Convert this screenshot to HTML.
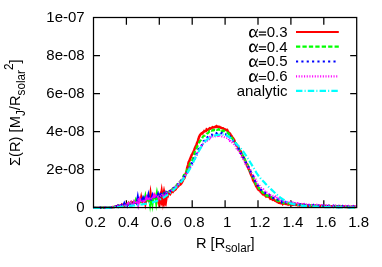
<!DOCTYPE html>
<html><head><meta charset="utf-8"><title>plot</title>
<style>html,body{margin:0;padding:0;background:#fff;width:382px;height:267px;overflow:hidden}body{position:relative;font-family:"Liberation Sans",sans-serif}</style>
</head><body>
<svg width="382" height="267" viewBox="0 0 382 267" style="display:block;position:absolute;left:0;top:0;will-change:transform">
<rect width="382" height="267" fill="#fff"/>
<g stroke="#000" stroke-width="1.25" fill="none" stroke-linecap="butt">
<path d="M126.40,207.55 V200.35000000000002 M126.40,17.5 V24.7"/>
<path d="M159.30,207.55 V200.35000000000002 M159.30,17.5 V24.7"/>
<path d="M192.20,207.55 V200.35000000000002 M192.20,17.5 V24.7"/>
<path d="M225.10,207.55 V200.35000000000002 M225.10,17.5 V24.7"/>
<path d="M258.00,207.55 V200.35000000000002 M258.00,17.5 V24.7"/>
<path d="M290.90,207.55 V200.35000000000002 M290.90,17.5 V24.7"/>
<path d="M323.80,207.55 V200.35000000000002 M323.80,17.5 V24.7"/>
<path d="M93.5,55.51 H100.0 M356.7,55.51 H350.2"/>
<path d="M93.5,93.52 H100.0 M356.7,93.52 H350.2"/>
<path d="M93.5,131.53 H100.0 M356.7,131.53 H350.2"/>
<path d="M93.5,169.54 H100.0 M356.7,169.54 H350.2"/>
</g>
<g fill="none" stroke-linejoin="miter" stroke-miterlimit="10" stroke-linecap="butt">
<path d="M93.50,207.75 L94.25,207.75 L95.00,207.74 L95.75,207.74 L96.50,207.73 L97.25,207.73 L98.00,207.73 L98.75,207.72 L99.50,207.72 L100.25,207.72 L101.00,207.71 L101.75,207.71 L102.50,207.71 L103.25,207.70 L104.00,207.69 L104.75,207.69 L105.50,207.68 L106.25,207.67 L107.00,207.66 L107.75,207.65 L108.50,207.63 L109.25,207.58 L110.00,207.51 L110.75,207.41 L111.50,207.31 L112.25,207.20 L113.00,207.10 L113.75,207.05 L114.50,206.85 L115.25,206.72 L116.00,206.50 L116.75,206.65 L117.50,205.94 L118.25,206.66 L119.00,205.93 L119.75,206.10 L120.50,205.79 L121.25,206.28 L122.00,204.76 L122.75,205.31 L123.50,205.13 L124.25,205.75 L125.00,204.39 L125.75,204.73 L126.50,204.09 L127.25,204.48 L128.00,204.66 L128.75,203.28 L129.50,204.64 L130.25,204.25 L131.00,203.76 L131.75,203.83 L132.50,202.48 L133.25,202.67 L134.00,201.87 L134.75,202.17 L135.50,202.57 L136.25,201.48 L137.00,201.52 L137.75,201.13 L138.50,200.84 L139.25,200.80 L140.00,201.13 L140.75,200.12 L141.50,200.99 L142.25,201.94 L143.00,201.06 L143.75,200.15 L144.50,199.41 L145.25,199.34 L146.00,201.11 L146.75,199.60 L147.50,198.85 L148.25,199.33 L149.00,200.71 L149.75,198.88 L150.50,199.09 L151.25,198.63 L152.00,197.89 L152.75,197.02 L153.50,197.49 L154.25,197.41 L155.00,197.90 L155.75,197.94 L156.50,197.85 L157.25,197.12 L158.00,197.47 L158.75,195.86 L159.50,197.47 L160.25,196.62 L161.00,195.73 L161.75,196.17 L162.50,195.50 L163.25,196.15 L164.00,196.11 L164.75,196.18 L165.50,193.57 L166.25,193.27 L167.00,193.47 L167.75,193.43 L168.50,193.34 L169.25,192.74 L170.00,191.81 L170.75,191.86 L171.50,191.74 L172.23,191.13 L173.31,190.83 L173.79,190.02 L174.70,189.46 L175.23,188.97 L175.99,188.40 L176.86,187.68 L177.62,186.99 L178.23,186.08 L178.64,185.69 L179.72,184.86 L180.60,184.34 L181.25,183.44 L182.07,182.12 L182.79,180.80 L183.28,179.42 L184.38,178.23 L184.91,176.27 L185.67,173.83 L186.59,171.37 L187.14,168.09 L188.04,165.09 L188.62,162.21 L189.47,160.73 L190.19,158.74 L190.93,157.13 L191.63,154.95 L192.49,153.74 L193.27,152.36 L194.14,150.23 L194.66,148.68 L195.51,146.86 L196.58,144.48 L197.06,143.00 L197.82,141.15 L198.57,138.74 L198.99,137.23 L199.96,135.21 L200.43,134.53 L201.63,133.21 L202.51,133.30 L202.92,132.42 L204.01,131.70 L204.33,130.95 L205.07,131.12 L206.08,130.91 L206.63,129.38 L207.43,129.94 L208.41,129.73 L208.85,129.03 L209.71,128.28 L210.48,128.62 L211.31,128.03 L212.11,127.61 L212.73,127.14 L213.32,127.40 L214.40,127.24 L215.43,126.62 L215.87,126.82 L216.58,126.26 L217.19,126.86 L217.96,126.72 L218.54,126.80 L219.59,127.02 L220.23,127.55 L221.19,127.77 L221.59,127.99 L222.70,128.15 L223.20,128.42 L223.91,128.91 L224.68,129.18 L225.41,129.75 L225.94,129.93 L227.10,129.84 L227.87,131.54 L228.69,132.62 L229.36,132.92 L230.10,133.67 L230.50,134.72 L231.53,135.91 L232.08,137.21 L232.96,138.15 L233.96,139.59 L234.50,140.71 L234.86,142.37 L235.85,143.52 L236.66,145.08 L237.47,146.22 L238.39,147.93 L239.13,149.06 L239.87,151.03 L240.53,151.17 L241.21,152.94 L241.95,154.81 L242.81,156.75 L243.64,157.40 L244.48,159.03 L245.01,160.57 L245.79,162.70 L246.72,163.94 L247.09,165.97 L248.12,167.43 L248.63,168.94 L249.74,171.28 L250.46,173.22 L251.25,175.29 L251.98,176.61 L252.63,178.16 L253.10,180.20 L254.07,181.73 L254.88,183.28 L255.57,184.58 L256.23,186.25 L257.02,187.23 L257.81,188.83 L258.35,189.63 L259.35,190.42 L260.08,190.57 L260.73,192.04 L261.60,192.72 L262.42,193.52 L262.85,194.22 L263.97,194.36 L264.65,195.25 L265.40,195.30 L266.15,196.49 L266.86,195.91 L267.50,196.17 L268.14,196.58 L269.08,197.18 L269.77,197.49 L270.40,198.81 L271.51,198.52 L272.13,198.61 L272.70,199.74 L273.26,199.61 L274.12,199.79 L275.07,200.78 L275.71,201.04 L276.30,201.04 L277.29,201.92 L277.98,201.86 L278.69,202.62 L279.31,202.58 L280.30,203.18 L280.84,203.00 L281.72,202.82 L282.67,204.10 L283.44,203.35 L283.98,203.58 L284.29,203.54 L285.61,203.81 L286.11,204.01 L286.79,204.09 L287.86,204.27 L288.22,204.60 L289.36,204.26 L290.14,204.09 L290.83,204.17 L291.53,204.36 L292.23,204.21 L292.93,204.82 L293.59,204.59 L294.86,204.70 L295.18,204.82 L295.86,204.57 L296.74,204.75 L297.59,205.14 L298.40,205.17 L298.97,204.99 L299.72,205.54 L300.50,204.90 L301.25,205.16 L302.00,205.23 L302.75,204.71 L303.50,205.80 L304.25,205.50 L305.00,205.23 L305.75,205.96 L306.50,205.68 L307.25,205.68 L308.00,205.49 L308.75,205.69 L309.50,205.37 L310.25,205.91 L311.00,205.69 L311.75,205.83 L312.50,206.10 L313.25,205.93 L314.00,205.95 L314.75,205.98 L315.50,205.79 L316.25,206.16 L317.00,206.34 L317.75,206.19 L318.50,206.24 L319.25,205.87 L320.00,205.90 L320.75,205.79 L321.50,206.40 L322.25,206.09 L323.00,206.48 L323.75,206.01 L324.50,206.11 L325.25,206.24 L326.00,206.44 L326.75,206.27 L327.50,206.32 L328.25,206.30 L329.00,206.35 L329.75,206.08 L330.50,206.36 L331.25,206.32 L332.00,206.36 L332.75,206.50 L333.50,206.26 L334.25,206.41 L335.00,206.38 L335.75,206.55 L336.50,206.65 L337.25,206.28 L338.00,206.64 L338.75,206.98 L339.50,206.22 L340.25,206.37 L341.00,206.38 L341.75,206.53 L342.50,206.96 L343.25,206.62 L344.00,206.48 L344.75,206.78 L345.50,206.53 L346.25,206.92 L347.00,206.76 L347.75,207.01 L348.50,206.57 L349.25,207.40 L350.00,206.93 L350.75,206.91 L351.50,206.77 L352.25,206.63 L353.00,206.62 L353.75,206.79 L354.50,206.66 L355.25,206.91 L356.00,206.68" stroke="#ff0000" stroke-width="2.5" stroke-miterlimit="5"/>
<path d="M130.30,203.37 L131.10,202.04 L131.90,203.37 M140.40,200.88 L141.20,197.02 L142.00,200.88 M149.70,198.58 L150.50,192.73 L151.30,198.58 M153.40,197.61 L154.20,195.41 L155.00,197.61 M159.40,196.18 L160.20,194.22 L161.00,196.18 M160.90,195.79 L161.70,190.44 L162.50,195.79 M163.20,195.05 L164.00,191.03 L164.80,195.05 M144.60,199.90 L145.40,204.11 L146.20,199.90 M162.10,195.43 L162.90,201.79 L163.70,195.43 M160.10,196.01 L160.90,201.10 L161.70,196.01 M164.10,194.68 L164.90,200.43 L165.70,194.68 M165.50,194.06 L166.30,199.68 L167.10,194.06 M157.50,196.63 L158.30,201.17 L159.10,196.63 M167.40,193.14 L168.20,195.32 L169.00,193.14 M169.70,192.02 L170.50,193.72 L171.30,192.02 M172.20,190.60 L173.00,191.81 L173.80,190.60 M174.70,188.71 L175.50,189.58 L176.30,188.71 M158.80,196.33 L159.60,200.99 L160.40,196.33 M161.10,195.73 L161.90,200.23 L162.70,195.73 M163.10,195.08 L163.90,200.40 L164.70,195.08 M164.80,194.38 L165.60,199.57 L166.40,194.38" stroke="#ff0000" stroke-width="2.2"/>
<path d="M93.50,207.75 L94.25,207.75 L95.00,207.74 L95.75,207.74 L96.50,207.73 L97.25,207.73 L98.00,207.73 L98.75,207.72 L99.50,207.72 L100.25,207.72 L101.00,207.71 L101.75,207.71 L102.50,207.71 L103.25,207.70 L104.00,207.69 L104.75,207.69 L105.50,207.68 L106.25,207.67 L107.00,207.66 L107.75,207.65 L108.50,207.63 L109.25,207.58 L110.00,207.51 L110.75,207.41 L111.50,207.31 L112.25,207.20 L113.00,207.10 L113.75,206.98 L114.50,206.88 L115.25,206.55 L116.00,206.87 L116.75,206.21 L117.50,206.21 L118.25,206.38 L119.00,205.78 L119.75,205.66 L120.50,205.55 L121.25,205.95 L122.00,206.59 L122.75,205.48 L123.50,204.74 L124.25,205.46 L125.00,204.65 L125.75,204.82 L126.50,205.44 L127.25,203.92 L128.00,204.26 L128.75,203.39 L129.50,203.72 L130.25,203.81 L131.00,202.65 L131.75,202.92 L132.50,202.79 L133.25,202.27 L134.00,201.64 L134.75,201.25 L135.50,202.06 L136.25,201.78 L137.00,203.60 L137.75,199.70 L138.50,201.57 L139.25,201.61 L140.00,202.25 L140.75,201.39 L141.50,200.11 L142.25,200.64 L143.00,200.93 L143.75,200.04 L144.50,200.77 L145.25,198.35 L146.00,201.24 L146.75,200.83 L147.50,199.10 L148.25,199.73 L149.00,199.05 L149.75,198.09 L150.50,198.71 L151.25,199.32 L152.00,197.89 L152.75,197.69 L153.50,197.76 L154.25,198.01 L155.00,198.57 L155.75,196.60 L156.50,197.44 L157.25,196.95 L158.00,194.79 L158.75,195.91 L159.50,195.94 L160.25,195.78 L161.00,195.86 L161.75,193.53 L162.50,195.04 L163.25,194.16 L164.00,193.29 L164.75,194.35 L165.50,194.06 L166.25,192.77 L167.00,193.18 L167.75,192.08 L168.50,191.83 L169.25,190.96 L170.00,191.23 L170.75,190.08 L171.50,189.83 L172.01,189.55 L172.92,188.19 L174.01,188.17 L174.48,187.61 L175.14,187.26 L176.05,186.72 L176.52,185.52 L176.85,184.47 L178.10,184.45 L178.10,183.47 L179.67,181.96 L180.62,181.15 L181.55,180.05 L182.16,178.98 L182.76,177.72 L183.19,176.92 L183.92,174.81 L184.94,174.43 L185.49,172.98 L186.21,171.50 L187.26,170.56 L187.74,168.08 L188.20,167.63 L189.43,165.77 L189.97,163.58 L191.16,162.25 L192.14,160.21 L192.73,159.25 L193.38,157.21 L194.41,154.92 L194.46,152.66 L195.33,150.80 L196.31,149.03 L196.88,147.21 L197.79,145.48 L198.39,144.00 L199.17,142.61 L199.87,141.17 L200.97,139.90 L201.44,138.73 L201.86,138.75 L202.96,136.59 L203.57,135.87 L204.93,135.53 L205.36,134.57 L206.38,134.13 L206.78,133.62 L207.78,133.21 L208.48,132.57 L209.17,131.59 L209.23,131.79 L210.56,130.54 L211.66,130.71 L212.00,130.35 L213.10,129.98 L213.36,130.29 L214.16,129.88 L215.21,130.09 L215.33,129.23 L217.00,129.87 L217.17,129.75 L218.39,129.67 L218.57,129.26 L219.73,129.70 L220.13,129.42 L220.54,129.38 L221.62,131.13 L222.47,130.59 L223.39,131.04 L223.76,130.66 L224.91,131.35 L225.42,131.76 L225.66,132.19 L227.30,132.50 L228.07,133.00 L228.39,133.15 L229.19,134.74 L229.84,135.54 L230.86,136.64 L231.32,137.21 L232.50,138.89 L232.96,139.37 L233.36,140.28 L234.71,142.09 L235.39,142.81 L235.45,143.74 L236.81,145.34 L237.67,146.73 L238.22,147.81 L238.86,149.14 L240.12,151.51 L240.30,151.84 L241.77,153.39 L241.78,153.71 L243.03,155.81 L244.04,157.37 L243.87,158.49 L245.14,159.83 L245.53,161.75 L246.74,163.11 L247.68,164.64 L248.53,166.81 L249.06,168.54 L249.40,170.01 L250.47,171.64 L251.79,173.76 L252.13,175.59 L253.17,177.14 L253.60,178.10 L253.65,179.97 L254.67,181.65 L255.72,183.11 L255.98,184.49 L257.21,185.65 L257.18,186.23 L258.49,187.43 L259.44,188.26 L259.45,190.05 L260.92,190.39 L261.78,191.28 L262.54,192.15 L262.52,192.41 L263.33,192.78 L264.86,193.56 L265.61,194.15 L265.70,195.10 L266.37,195.34 L267.81,195.16 L267.68,196.06 L269.22,196.46 L269.27,196.30 L270.08,196.97 L271.29,196.84 L272.21,197.89 L272.97,198.09 L273.56,198.16 L274.00,198.74 L274.77,199.39 L275.83,199.50 L276.71,200.09 L276.99,200.50 L277.80,200.41 L278.57,200.90 L279.52,201.95 L279.97,201.65 L281.00,201.65 L281.81,202.18 L282.66,201.99 L283.39,202.92 L283.63,202.85 L284.77,203.21 L285.63,203.21 L286.04,203.22 L286.88,203.47 L288.17,203.40 L287.91,203.31 L289.90,203.33 L290.37,203.56 L290.66,203.20 L291.99,204.25 L291.96,203.56 L293.16,204.01 L293.33,203.83 L294.97,203.76 L295.06,204.26 L296.26,204.29 L296.82,204.39 L297.39,204.62 L298.09,204.43 L299.76,204.71 L299.55,204.80 L300.50,204.67 L301.25,204.75 L302.00,204.99 L302.75,204.94 L303.50,205.02 L304.25,204.51 L305.00,205.10 L305.75,205.22 L306.50,205.16 L307.25,205.32 L308.00,205.71 L308.75,205.35 L309.50,205.53 L310.25,205.24 L311.00,205.28 L311.75,205.40 L312.50,205.31 L313.25,205.57 L314.00,205.40 L314.75,205.60 L315.50,205.35 L316.25,205.33 L317.00,205.57 L317.75,205.51 L318.50,205.63 L319.25,205.66 L320.00,205.74 L320.75,206.07 L321.50,206.17 L322.25,206.05 L323.00,205.83 L323.75,206.26 L324.50,205.61 L325.25,205.52 L326.00,206.05 L326.75,206.01 L327.50,206.00 L328.25,206.05 L329.00,205.70 L329.75,205.83 L330.50,206.37 L331.25,206.34 L332.00,205.98 L332.75,206.58 L333.50,205.94 L334.25,206.06 L335.00,206.27 L335.75,205.96 L336.50,206.14 L337.25,206.22 L338.00,206.19 L338.75,206.49 L339.50,206.45 L340.25,206.09 L341.00,206.20 L341.75,206.41 L342.50,206.37 L343.25,206.23 L344.00,206.51 L344.75,206.61 L345.50,206.31 L346.25,206.64 L347.00,206.12 L347.75,206.14 L348.50,206.62 L349.25,206.35 L350.00,206.33 L350.75,206.50 L351.50,206.43 L352.25,206.67 L353.00,206.29 L353.75,206.54 L354.50,207.34 L355.25,206.68 L356.00,206.25" stroke="#00ff00" stroke-width="2.2" stroke-dasharray="4.29 2.14" stroke-miterlimit="5"/>
<path d="M135.00,202.10 L135.80,199.82 L136.60,202.10 M144.60,199.90 L145.40,196.03 L146.20,199.90 M156.10,196.85 L156.90,192.58 L157.70,196.85 M149.30,198.73 L150.10,204.62 L150.90,198.73 M151.60,198.13 L152.40,204.19 L153.20,198.13 M155.40,197.05 L156.20,202.98 L157.00,197.05 M147.20,199.26 L148.00,197.13 L148.80,199.26" stroke="#00ff00" stroke-width="2.2"/>
<path d="M93.50,207.75 L94.25,207.75 L95.00,207.74 L95.75,207.74 L96.50,207.73 L97.25,207.73 L98.00,207.73 L98.75,207.72 L99.50,207.72 L100.25,207.72 L101.00,207.71 L101.75,207.71 L102.50,207.71 L103.25,207.70 L104.00,207.69 L104.75,207.69 L105.50,207.68 L106.25,207.67 L107.00,207.66 L107.75,207.65 L108.50,207.63 L109.25,207.58 L110.00,207.51 L110.75,207.41 L111.50,207.31 L112.25,207.20 L113.00,207.10 L113.75,207.07 L114.50,206.92 L115.25,206.78 L116.00,206.31 L116.75,206.45 L117.50,206.29 L118.25,206.23 L119.00,205.90 L119.75,205.98 L120.50,205.65 L121.25,205.07 L122.00,206.09 L122.75,206.00 L123.50,206.44 L124.25,205.20 L125.00,204.69 L125.75,204.38 L126.50,203.29 L127.25,205.37 L128.00,203.20 L128.75,202.91 L129.50,203.63 L130.25,205.06 L131.00,203.63 L131.75,202.17 L132.50,202.26 L133.25,203.38 L134.00,202.40 L134.75,201.59 L135.50,201.94 L136.25,202.76 L137.00,203.86 L137.75,200.36 L138.50,200.83 L139.25,200.47 L140.00,198.59 L140.75,200.00 L141.50,199.72 L142.25,201.85 L143.00,200.33 L143.75,198.53 L144.50,200.83 L145.25,199.55 L146.00,197.83 L146.75,198.91 L147.50,198.73 L148.25,198.22 L149.00,199.05 L149.75,196.26 L150.50,198.32 L151.25,199.60 L152.00,199.22 L152.75,199.32 L153.50,199.14 L154.25,199.37 L155.00,196.08 L155.75,198.19 L156.50,194.74 L157.25,196.02 L158.00,194.21 L158.75,197.58 L159.50,197.70 L160.25,195.58 L161.00,197.63 L161.75,194.54 L162.50,195.16 L163.25,194.85 L164.00,193.33 L164.75,194.38 L165.50,195.21 L166.25,192.37 L167.00,193.35 L167.75,192.17 L168.50,192.74 L169.25,191.53 L170.00,191.05 L170.75,190.42 L171.50,189.89 L172.41,188.87 L173.21,189.15 L174.10,187.75 L174.84,187.64 L174.92,187.13 L176.00,186.05 L176.96,185.67 L177.60,185.28 L178.05,184.17 L178.87,183.11 L179.74,181.67 L180.17,181.38 L181.24,180.59 L182.18,179.67 L182.92,178.56 L183.66,177.97 L183.99,176.67 L184.52,175.77 L185.86,174.91 L186.29,173.30 L187.37,172.28 L188.48,171.78 L188.81,170.12 L189.44,168.15 L190.03,167.15 L190.72,165.89 L192.14,164.56 L191.77,162.67 L193.20,160.88 L194.36,159.23 L194.45,158.09 L195.48,156.42 L196.17,154.55 L197.17,153.02 L198.19,151.34 L198.37,150.12 L198.95,148.20 L199.81,147.16 L201.34,146.01 L202.09,144.73 L202.38,143.23 L203.19,142.84 L203.56,141.23 L204.81,140.59 L205.18,139.31 L205.75,138.18 L206.83,138.05 L207.41,137.40 L208.32,136.68 L208.99,136.23 L209.86,135.46 L210.54,134.98 L211.81,134.73 L212.23,134.96 L212.65,134.28 L213.66,133.59 L214.08,133.70 L215.00,133.20 L215.45,133.02 L216.19,133.26 L217.29,132.73 L217.58,132.31 L218.79,132.53 L219.39,132.86 L220.27,132.93 L221.22,133.36 L222.05,132.88 L222.62,133.43 L222.99,133.48 L224.19,133.50 L225.19,134.07 L225.60,134.29 L225.69,134.25 L226.63,135.24 L227.85,134.98 L228.41,135.90 L229.94,136.50 L229.86,137.32 L230.68,137.73 L231.67,138.73 L231.53,139.59 L233.27,140.91 L233.68,141.41 L234.08,142.73 L235.13,143.73 L236.35,144.59 L236.84,147.00 L236.68,147.43 L238.39,148.28 L238.91,150.42 L239.81,150.95 L240.12,152.68 L241.55,154.13 L242.30,155.00 L242.79,156.42 L243.50,157.77 L244.59,159.32 L245.15,160.37 L245.67,162.01 L246.45,163.89 L247.39,165.79 L248.55,167.19 L248.61,169.01 L249.37,170.16 L250.49,171.26 L250.84,172.82 L251.47,173.68 L252.19,175.42 L253.69,176.85 L253.75,178.69 L254.68,180.23 L255.05,181.25 L256.23,182.53 L256.88,183.44 L257.70,185.01 L258.37,186.21 L259.26,187.29 L259.95,187.85 L260.69,189.53 L261.29,190.10 L262.05,190.47 L263.26,191.05 L263.71,191.77 L264.86,192.52 L265.12,193.01 L265.83,193.65 L267.07,194.18 L267.46,194.78 L268.16,195.10 L268.90,195.11 L270.17,195.63 L270.52,195.78 L271.45,196.10 L272.33,197.25 L272.88,196.93 L273.18,198.05 L274.37,197.73 L275.39,198.29 L276.01,198.90 L276.57,198.93 L277.10,199.38 L278.28,199.53 L278.20,199.80 L279.83,200.22 L280.64,200.40 L280.74,201.40 L281.78,201.14 L281.97,201.97 L283.24,200.88 L283.82,201.89 L284.36,202.23 L285.58,202.16 L286.74,202.61 L287.29,202.65 L287.63,202.58 L288.94,202.86 L289.53,203.50 L290.62,203.05 L290.67,203.18 L291.79,203.13 L292.83,203.38 L292.43,203.17 L293.98,203.52 L294.18,204.21 L295.07,204.01 L296.03,204.01 L296.85,204.20 L298.02,204.46 L298.31,204.25 L299.00,204.65 L299.56,204.50 L300.50,204.38 L301.25,204.79 L302.00,203.96 L302.75,204.43 L303.50,204.68 L304.25,204.48 L305.00,204.71 L305.75,204.67 L306.50,204.72 L307.25,205.52 L308.00,205.12 L308.75,205.02 L309.50,205.37 L310.25,205.08 L311.00,205.37 L311.75,205.30 L312.50,205.62 L313.25,204.99 L314.00,205.51 L314.75,205.40 L315.50,205.15 L316.25,205.67 L317.00,205.28 L317.75,205.85 L318.50,205.64 L319.25,205.71 L320.00,205.60 L320.75,205.80 L321.50,205.22 L322.25,205.67 L323.00,205.53 L323.75,205.76 L324.50,205.71 L325.25,205.87 L326.00,205.57 L326.75,206.18 L327.50,206.31 L328.25,205.77 L329.00,205.83 L329.75,205.92 L330.50,206.15 L331.25,206.31 L332.00,205.65 L332.75,205.80 L333.50,205.72 L334.25,205.73 L335.00,205.63 L335.75,206.09 L336.50,205.78 L337.25,206.38 L338.00,206.27 L338.75,205.86 L339.50,205.88 L340.25,205.99 L341.00,206.45 L341.75,205.98 L342.50,205.85 L343.25,206.19 L344.00,206.30 L344.75,206.09 L345.50,206.61 L346.25,206.33 L347.00,206.39 L347.75,206.12 L348.50,206.32 L349.25,206.31 L350.00,205.86 L350.75,206.44 L351.50,206.00 L352.25,206.41 L353.00,206.11 L353.75,206.89 L354.50,206.54 L355.25,206.67 L356.00,206.70" stroke="#0000ff" stroke-width="2.2" stroke-dasharray="2.14 3.21" stroke-miterlimit="5"/>
<path d="M117.30,206.28 L118.10,205.52 L118.90,206.28 M123.50,205.15 L124.30,203.24 L125.10,205.15 M137.00,201.64 L137.80,197.11 L138.60,201.64 M147.60,199.16 L148.40,195.10 L149.20,199.16 M151.60,198.13 L152.40,195.40 L153.20,198.13 M142.20,200.47 L143.00,198.03 L143.80,200.47" stroke="#0000ff" stroke-width="2.2"/>
<path d="M93.50,207.75 L94.25,207.75 L95.00,207.74 L95.75,207.74 L96.50,207.73 L97.25,207.73 L98.00,207.73 L98.75,207.72 L99.50,207.72 L100.25,207.72 L101.00,207.71 L101.75,207.71 L102.50,207.71 L103.25,207.70 L104.00,207.69 L104.75,207.69 L105.50,207.68 L106.25,207.67 L107.00,207.66 L107.75,207.65 L108.50,207.63 L109.25,207.58 L110.00,207.51 L110.75,207.41 L111.50,207.31 L112.25,207.20 L113.00,207.10 L113.75,207.00 L114.50,206.91 L115.25,206.68 L116.00,206.73 L116.75,206.45 L117.50,206.10 L118.25,206.12 L119.00,206.28 L119.75,206.09 L120.50,205.51 L121.25,205.95 L122.00,205.57 L122.75,205.64 L123.50,205.46 L124.25,204.60 L125.00,205.18 L125.75,204.49 L126.50,205.57 L127.25,204.91 L128.00,204.28 L128.75,203.40 L129.50,203.87 L130.25,203.72 L131.00,202.59 L131.75,204.68 L132.50,203.24 L133.25,203.91 L134.00,201.80 L134.75,203.49 L135.50,201.23 L136.25,201.54 L137.00,202.20 L137.75,201.68 L138.50,199.80 L139.25,200.52 L140.00,201.75 L140.75,202.49 L141.50,201.48 L142.25,200.44 L143.00,201.06 L143.75,199.45 L144.50,200.50 L145.25,198.93 L146.00,199.75 L146.75,199.47 L147.50,200.00 L148.25,198.97 L149.00,199.94 L149.75,198.67 L150.50,199.28 L151.25,199.05 L152.00,196.78 L152.75,198.06 L153.50,197.85 L154.25,196.99 L155.00,197.54 L155.75,196.00 L156.50,197.42 L157.25,197.17 L158.00,196.78 L158.75,198.35 L159.50,196.36 L160.25,195.88 L161.00,194.98 L161.75,195.52 L162.50,194.30 L163.25,195.58 L164.00,193.93 L164.75,194.08 L165.50,194.72 L166.25,193.78 L167.00,192.84 L167.75,192.85 L168.50,191.78 L169.25,191.56 L170.00,190.84 L170.75,190.25 L171.50,189.95 L171.93,189.57 L172.66,188.63 L174.01,187.83 L174.24,187.41 L175.74,186.23 L176.20,186.12 L177.14,185.31 L177.45,185.53 L178.71,184.01 L178.90,182.92 L179.75,182.81 L180.07,181.62 L180.84,180.78 L181.81,179.88 L182.88,178.92 L183.61,177.75 L184.48,177.13 L185.08,175.95 L185.26,174.55 L186.34,173.49 L187.12,172.05 L188.14,171.18 L189.00,170.04 L189.28,168.72 L189.81,167.38 L191.14,165.78 L192.16,164.85 L192.92,162.85 L193.15,161.44 L193.94,159.85 L194.57,158.51 L195.87,156.95 L196.20,156.10 L197.21,154.06 L197.76,151.87 L198.78,150.72 L199.75,148.98 L199.95,148.32 L200.83,147.27 L201.49,145.69 L202.20,145.07 L202.79,143.97 L203.38,143.36 L203.75,143.02 L205.25,141.70 L205.96,140.79 L206.99,140.77 L207.41,140.15 L207.72,139.66 L209.20,139.25 L210.46,138.25 L210.37,137.45 L211.49,138.01 L212.33,137.27 L212.43,136.75 L213.21,136.51 L214.41,137.00 L214.79,136.55 L215.33,136.46 L216.59,136.49 L217.93,135.92 L217.52,135.71 L218.48,135.75 L219.64,135.68 L220.06,135.98 L220.86,135.88 L221.67,136.28 L222.36,136.26 L223.16,136.53 L223.81,136.91 L224.98,137.37 L225.37,137.70 L226.04,137.60 L227.05,138.00 L227.95,138.19 L228.60,139.14 L229.39,139.88 L230.37,139.90 L230.13,140.99 L231.13,141.39 L231.95,142.22 L232.61,143.18 L233.78,143.92 L234.51,145.27 L235.60,145.60 L235.95,146.99 L236.39,148.38 L237.94,149.35 L238.62,151.00 L239.09,151.65 L240.31,153.32 L241.38,154.09 L241.08,155.70 L241.82,157.13 L243.02,158.90 L243.41,159.84 L244.51,161.34 L245.25,162.24 L245.60,164.23 L246.84,164.89 L247.50,166.22 L247.93,167.18 L249.11,168.83 L250.45,170.24 L250.50,170.86 L250.59,172.06 L251.68,173.18 L252.38,174.42 L253.03,175.61 L254.19,176.71 L255.35,178.88 L255.58,179.21 L255.96,180.81 L257.17,182.40 L257.40,183.72 L258.78,184.44 L259.33,185.44 L259.85,186.51 L260.52,187.31 L261.64,188.47 L262.61,188.85 L263.42,189.45 L263.80,190.31 L264.60,191.13 L265.20,192.06 L265.72,192.69 L266.51,192.57 L267.92,192.69 L268.04,193.12 L269.47,194.57 L269.58,194.18 L270.01,194.82 L271.08,195.63 L272.10,195.25 L272.70,195.78 L273.66,196.06 L274.91,196.29 L275.09,197.23 L275.75,197.69 L276.35,197.17 L277.18,198.37 L278.49,198.35 L279.10,198.82 L280.00,199.17 L280.33,199.06 L280.82,199.69 L281.77,199.81 L282.43,200.98 L283.68,201.33 L284.23,200.94 L284.20,200.77 L285.15,201.57 L286.17,201.45 L287.52,202.04 L287.55,202.25 L288.55,202.33 L289.37,202.02 L290.16,202.03 L290.94,202.24 L291.34,202.51 L292.54,202.47 L292.81,203.07 L294.03,203.09 L294.40,203.06 L295.12,203.11 L295.98,203.46 L296.50,203.73 L297.63,203.11 L298.87,203.68 L298.34,203.65 L299.86,203.64 L300.50,203.81 L301.25,204.00 L302.00,204.46 L302.75,204.15 L303.50,204.12 L304.25,204.02 L305.00,204.53 L305.75,204.27 L306.50,204.48 L307.25,204.73 L308.00,204.64 L308.75,204.61 L309.50,204.72 L310.25,205.01 L311.00,204.86 L311.75,204.97 L312.50,205.06 L313.25,204.93 L314.00,205.12 L314.75,205.03 L315.50,205.37 L316.25,205.27 L317.00,204.81 L317.75,205.18 L318.50,205.50 L319.25,205.24 L320.00,205.22 L320.75,205.56 L321.50,205.13 L322.25,205.40 L323.00,205.54 L323.75,205.62 L324.50,205.23 L325.25,205.21 L326.00,205.83 L326.75,205.35 L327.50,205.53 L328.25,206.10 L329.00,205.49 L329.75,205.12 L330.50,206.24 L331.25,205.87 L332.00,205.75 L332.75,206.30 L333.50,205.69 L334.25,206.05 L335.00,205.76 L335.75,205.72 L336.50,205.94 L337.25,206.01 L338.00,206.12 L338.75,206.12 L339.50,205.77 L340.25,205.88 L341.00,206.35 L341.75,206.08 L342.50,205.98 L343.25,206.28 L344.00,206.31 L344.75,206.30 L345.50,205.92 L346.25,205.98 L347.00,206.24 L347.75,206.36 L348.50,205.85 L349.25,206.04 L350.00,206.11 L350.75,206.40 L351.50,205.96 L352.25,206.81 L353.00,206.25 L353.75,206.39 L354.50,206.76 L355.25,206.43 L356.00,206.48" stroke="#ff00ff" stroke-width="2.2" stroke-dasharray="1.07 1.61" stroke-miterlimit="5"/>
<path d="M137.40,201.55 L138.20,205.14 L139.00,201.55 M139.00,201.19 L139.80,199.00 L140.60,201.19 M145.70,199.63 L146.50,197.34 L147.30,199.63 M153.20,197.69 L154.00,195.37 L154.80,197.69 M127.20,204.25 L128.00,203.51 L128.80,204.25" stroke="#ff00ff" stroke-width="2.2"/>
<path d="M93.50,207.85 L94.50,207.85 L95.50,207.84 L96.50,207.84 L97.50,207.84 L98.50,207.84 L99.50,207.83 L100.50,207.83 L101.50,207.83 L102.50,207.83 L103.50,207.82 L104.50,207.82 L105.50,207.82 L106.50,207.81 L107.50,207.80 L108.50,207.79 L109.50,207.77 L110.50,207.72 L111.50,207.66 L112.50,207.60 L113.50,207.53 L114.50,207.47 L115.50,207.39 L116.50,207.30 L117.50,207.20 L118.50,207.10 L119.50,207.00 L120.50,206.90 L121.50,206.80 L122.50,206.69 L123.50,206.59 L124.50,206.48 L125.50,206.37 L126.50,206.26 L127.50,206.15 L128.50,206.04 L129.50,205.92 L130.50,205.81 L131.50,205.70 L132.50,205.59 L133.50,205.48 L134.50,205.37 L135.50,205.25 L136.50,205.14 L137.50,205.02 L138.50,204.89 L139.50,204.76 L140.50,204.63 L141.50,204.49 L142.50,204.34 L143.50,204.19 L144.50,204.03 L145.50,203.87 L146.50,203.69 L147.50,203.50 L148.50,203.30 L149.50,203.08 L150.50,202.85 L151.50,202.60 L152.50,202.33 L153.50,202.05 L154.50,201.74 L155.50,201.41 L156.50,201.06 L157.50,200.68 L158.50,200.25 L159.50,199.79 L160.50,199.29 L161.50,198.76 L162.50,198.20 L163.50,197.62 L164.50,197.02 L165.50,196.38 L166.50,195.69 L167.50,194.96 L168.50,194.19 L169.50,193.40 L170.50,192.57 L171.50,191.72 L172.50,190.85 L173.50,189.94 L174.50,188.98 L175.50,187.99 L176.50,186.96 L177.50,185.90 L178.50,184.80 L179.50,183.68 L180.50,182.52 L181.50,181.31 L182.50,180.05 L183.50,178.74 L184.50,177.37 L185.50,175.94 L186.50,174.43 L187.50,172.83 L188.50,171.14 L189.50,169.37 L190.50,167.55 L191.50,165.66 L192.50,163.63 L193.50,161.52 L194.50,159.42 L195.50,157.39 L196.50,155.45 L197.50,153.54 L198.50,151.67 L199.50,149.87 L200.50,148.16 L201.50,146.50 L202.50,144.89 L203.50,143.42 L204.50,142.13 L205.50,140.98 L206.50,139.93 L207.50,139.04 L208.50,138.28 L209.50,137.59 L210.50,136.99 L211.50,136.50 L212.50,136.13 L213.50,135.82 L214.50,135.56 L215.50,135.33 L216.50,135.13 L217.50,134.97 L218.50,134.80 L219.50,134.65 L220.50,134.54 L221.50,134.50 L222.50,134.53 L223.50,134.62 L224.50,134.75 L225.50,134.92 L226.50,135.30 L227.50,135.89 L228.50,136.53 L229.50,137.25 L230.50,138.07 L231.50,138.95 L232.50,139.86 L233.50,140.84 L234.50,141.86 L235.50,142.90 L236.50,143.93 L237.50,144.95 L238.50,145.98 L239.50,147.04 L240.50,148.15 L241.50,149.31 L242.50,150.56 L243.50,151.89 L244.50,153.30 L245.50,154.76 L246.50,156.27 L247.50,157.80 L248.50,159.38 L249.50,161.02 L250.50,162.71 L251.50,164.41 L252.50,166.10 L253.50,167.77 L254.50,169.48 L255.50,171.19 L256.50,172.85 L257.50,174.38 L258.50,175.74 L259.50,177.01 L260.50,178.21 L261.50,179.35 L262.50,180.45 L263.50,181.54 L264.50,182.62 L265.50,183.68 L266.50,184.73 L267.50,185.75 L268.50,186.76 L269.50,187.75 L270.50,188.72 L271.50,189.67 L272.50,190.61 L273.50,191.55 L274.50,192.48 L275.50,193.41 L276.50,194.32 L277.50,195.21 L278.50,196.06 L279.50,196.88 L280.50,197.64 L281.50,198.35 L282.50,199.05 L283.50,199.74 L284.50,200.41 L285.50,201.04 L286.50,201.62 L287.50,202.14 L288.50,202.60 L289.50,202.97 L290.50,203.30 L291.50,203.61 L292.50,203.91 L293.50,204.19 L294.50,204.44 L295.50,204.68 L296.50,204.90 L297.50,205.10 L298.50,205.27 L299.50,205.43 L300.50,205.56 L301.50,205.68 L302.50,205.79 L303.50,205.89 L304.50,205.98 L305.50,206.06 L306.50,206.14 L307.50,206.21 L308.50,206.28 L309.50,206.34 L310.50,206.40 L311.50,206.46 L312.50,206.51 L313.50,206.56 L314.50,206.61 L315.50,206.66 L316.50,206.71 L317.50,206.76 L318.50,206.80 L319.50,206.84 L320.50,206.88 L321.50,206.92 L322.50,206.96 L323.50,207.00 L324.50,207.03 L325.50,207.07 L326.50,207.10 L327.50,207.13 L328.50,207.16 L329.50,207.19 L330.50,207.21 L331.50,207.24 L332.50,207.26 L333.50,207.29 L334.50,207.31 L335.50,207.33 L336.50,207.36 L337.50,207.38 L338.50,207.40 L339.50,207.42 L340.50,207.43 L341.50,207.45 L342.50,207.47 L343.50,207.48 L344.50,207.49 L345.50,207.51 L346.50,207.52 L347.50,207.53 L348.50,207.54 L349.50,207.54 L350.50,207.55 L351.50,207.56 L352.50,207.57 L353.50,207.58 L354.50,207.58 L355.50,207.59 L356.50,207.60" stroke="#00ffff" stroke-width="2.2" stroke-dasharray="6.43 2.14 1.07 2.14" stroke-miterlimit="5"/>
</g>
<rect x="93.5" y="17.5" width="263.2" height="190.05" stroke="#000" stroke-width="1.25" fill="none"/>
<g fill="none" stroke-linecap="butt">
<path d="M296.0,32.0 H338.8" stroke="#ff0000" stroke-width="2.2"/>
<path d="M296.0,46.7 H338.8" stroke="#00ff00" stroke-width="2.2" stroke-dasharray="4.29 2.14"/>
<path d="M296.0,61.5 H338.8" stroke="#0000ff" stroke-width="2.2" stroke-dasharray="2.14 3.21"/>
<path d="M296.0,76.4 H338.8" stroke="#ff00ff" stroke-width="2.2" stroke-dasharray="1.07 1.61"/>
<path d="M296.0,90.9 H338.8" stroke="#00ffff" stroke-width="2.2" stroke-dasharray="6.43 2.14 1.07 2.14"/>
</g>
<g font-family="'Liberation Sans', sans-serif" font-size="15.0" fill="#000">
<text transform="translate(84.70,22.30) scale(1.0,1)" text-anchor="end">1e-07</text>
<text transform="translate(84.70,60.31) scale(1.0,1)" text-anchor="end">8e-08</text>
<text transform="translate(84.70,98.32) scale(1.0,1)" text-anchor="end">6e-08</text>
<text transform="translate(84.70,136.33) scale(1.0,1)" text-anchor="end">4e-08</text>
<text transform="translate(84.70,174.34) scale(1.0,1)" text-anchor="end">2e-08</text>
<text transform="translate(84.70,212.35) scale(1.0,1)" text-anchor="end">0</text>
<text transform="translate(95.50,227.15) scale(1.0,1)" text-anchor="middle">0.2</text>
<text transform="translate(128.40,227.15) scale(1.0,1)" text-anchor="middle">0.4</text>
<text transform="translate(161.30,227.15) scale(1.0,1)" text-anchor="middle">0.6</text>
<text transform="translate(194.20,227.15) scale(1.0,1)" text-anchor="middle">0.8</text>
<text transform="translate(227.10,227.15) scale(1.0,1)" text-anchor="middle">1</text>
<text transform="translate(260.00,227.15) scale(1.0,1)" text-anchor="middle">1.2</text>
<text transform="translate(292.90,227.15) scale(1.0,1)" text-anchor="middle">1.4</text>
<text transform="translate(325.80,227.15) scale(1.0,1)" text-anchor="middle">1.6</text>
<text transform="translate(358.70,227.15) scale(1.0,1)" text-anchor="middle">1.8</text>
<text transform="translate(287.50,36.90) scale(1.0,1)" text-anchor="end">0.3</text>
<path d="M258.85,32.15 H266.1 M258.85,34.85 H266.1" stroke="#000" stroke-width="1.1" fill="none"/>
<g transform="translate(249.0,36.90)" fill="none" stroke="#000" stroke-linecap="round" stroke-linejoin="round"><path d="M8.5,-7.45 C7.8,-5.3 7.0,-3.2 5.8,-1.6 C4.8,-0.3 3.9,0.05 3.0,0.05 C1.5,0.05 0.75,-1.3 0.75,-3.3 C0.75,-5.7 2.1,-7.5 3.9,-7.5 C5.5,-7.5 6.25,-5.7 6.6,-3.4 C6.9,-1.4 7.2,0.1 8.7,-0.25" stroke-width="1.05"/><path d="M2.6,-0.1 C1.4,-0.4 0.95,-1.7 0.95,-3.3 C0.95,-5.1 1.8,-6.7 3.0,-7.25" stroke-width="1.5"/></g>
<text transform="translate(287.50,51.60) scale(1.0,1)" text-anchor="end">0.4</text>
<path d="M258.85,46.85 H266.1 M258.85,49.55 H266.1" stroke="#000" stroke-width="1.1" fill="none"/>
<g transform="translate(249.0,51.60)" fill="none" stroke="#000" stroke-linecap="round" stroke-linejoin="round"><path d="M8.5,-7.45 C7.8,-5.3 7.0,-3.2 5.8,-1.6 C4.8,-0.3 3.9,0.05 3.0,0.05 C1.5,0.05 0.75,-1.3 0.75,-3.3 C0.75,-5.7 2.1,-7.5 3.9,-7.5 C5.5,-7.5 6.25,-5.7 6.6,-3.4 C6.9,-1.4 7.2,0.1 8.7,-0.25" stroke-width="1.05"/><path d="M2.6,-0.1 C1.4,-0.4 0.95,-1.7 0.95,-3.3 C0.95,-5.1 1.8,-6.7 3.0,-7.25" stroke-width="1.5"/></g>
<text transform="translate(287.50,66.40) scale(1.0,1)" text-anchor="end">0.5</text>
<path d="M258.85,61.65 H266.1 M258.85,64.35 H266.1" stroke="#000" stroke-width="1.1" fill="none"/>
<g transform="translate(249.0,66.40)" fill="none" stroke="#000" stroke-linecap="round" stroke-linejoin="round"><path d="M8.5,-7.45 C7.8,-5.3 7.0,-3.2 5.8,-1.6 C4.8,-0.3 3.9,0.05 3.0,0.05 C1.5,0.05 0.75,-1.3 0.75,-3.3 C0.75,-5.7 2.1,-7.5 3.9,-7.5 C5.5,-7.5 6.25,-5.7 6.6,-3.4 C6.9,-1.4 7.2,0.1 8.7,-0.25" stroke-width="1.05"/><path d="M2.6,-0.1 C1.4,-0.4 0.95,-1.7 0.95,-3.3 C0.95,-5.1 1.8,-6.7 3.0,-7.25" stroke-width="1.5"/></g>
<text transform="translate(287.50,81.30) scale(1.0,1)" text-anchor="end">0.6</text>
<path d="M258.85,76.55 H266.1 M258.85,79.25 H266.1" stroke="#000" stroke-width="1.1" fill="none"/>
<g transform="translate(249.0,81.30)" fill="none" stroke="#000" stroke-linecap="round" stroke-linejoin="round"><path d="M8.5,-7.45 C7.8,-5.3 7.0,-3.2 5.8,-1.6 C4.8,-0.3 3.9,0.05 3.0,0.05 C1.5,0.05 0.75,-1.3 0.75,-3.3 C0.75,-5.7 2.1,-7.5 3.9,-7.5 C5.5,-7.5 6.25,-5.7 6.6,-3.4 C6.9,-1.4 7.2,0.1 8.7,-0.25" stroke-width="1.05"/><path d="M2.6,-0.1 C1.4,-0.4 0.95,-1.7 0.95,-3.3 C0.95,-5.1 1.8,-6.7 3.0,-7.25" stroke-width="1.5"/></g>
<text transform="translate(287.50,95.80) scale(1.0,1)" text-anchor="end">analytic</text>
<text transform="translate(196.00,248.00) scale(0.975,1)" text-anchor="start">R [R<tspan font-size="12.0" dy="4.2">solar</tspan><tspan dy="-4.2">]</tspan></text>
<text transform="translate(20.20,166.00) rotate(-90) scale(0.981,1)" text-anchor="start">Σ(R) [M<tspan font-size="12.0" dy="4.35">J</tspan><tspan dy="-4.35">/R</tspan><tspan font-size="12.0" dy="4.35">solar</tspan><tspan font-size="12.0" dy="-11.6">2</tspan><tspan dy="7.25">]</tspan></text>
</g>
</svg>
</body></html>
